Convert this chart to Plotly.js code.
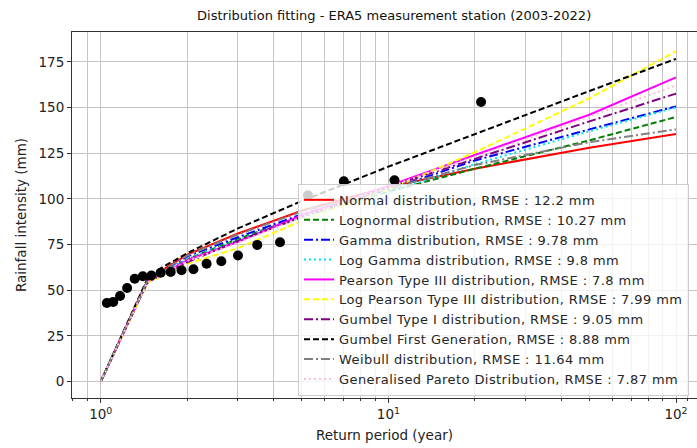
<!DOCTYPE html>
<html>
<head>
<meta charset="utf-8">
<script src="https://cdn.plot.ly/plotly-3.0.1.min.js"></script>
<style>
html,body{margin:0;padding:0;background:#fff;overflow:hidden;}
#chart{width:697px;height:448px;}
.legendtext{letter-spacing:0.42px;}
</style>
</head>
<body>
<div id="chart"></div>
<script>
// Return periods at which the fitted curves are read
const returnPeriods = [1, 1.45, 1.6, 2, 3, 5, 10, 20, 50, 100];

// Fitted curves (mm)
const normalVals      = [0, 55, 60, 69.5, 81, 93.5, 106.5, 116.5, 128, 135.5];
const lognormalVals   = [0, 54, 58.5, 67, 78, 90.5, 104, 116.5, 132, 144.8];
const gammaVals       = [0, 55, 59.5, 68.5, 79, 91.5, 105, 121, 138, 150.6];
const logGammaVals    = [0, 54.5, 58.5, 67, 77.5, 90, 103.5, 119, 137, 150];
const pearson3Vals    = [0, 54.5, 58, 66.5, 76.5, 91, 107, 124, 146, 166.5];
const logPearson3Vals = [0, 54, 57, 64.5, 73, 88, 105, 125.5, 155, 180.8];
const gumbel1Vals     = [0, 54, 57.7, 65.3, 77, 90, 106.4, 122, 142.4, 157.6];
const gumbelFGVals    = [0, 56, 61.6, 70.3, 83.8, 98.8, 117.6, 135.6, 159, 176.6];
const weibullVals     = [0, 55, 59.5, 69, 80.5, 93, 105.5, 118.5, 131, 138];
const genParetoVals   = [0, 54, 57.5, 66, 76, 90, 106.5, 123, 145, 162];

// Observed annual maxima (plotting positions)
const obsReturnPeriods = [1.05, 1.105, 1.167, 1.235, 1.3125, 1.4, 1.5, 1.615, 1.75, 1.909, 2.1, 2.333, 2.625, 3, 3.5, 4.2, 5.25, 7, 10.5, 21];
const obsRainfall      = [43.0, 43.6, 46.8, 51.2, 56.3, 57.6, 58.0, 59.5, 60.0, 60.9, 61.5, 64.5, 65.8, 69.0, 74.8, 76.2, 102, 109.6, 110.2, 153];

const seriesNames = [
  "Normal distribution, RMSE : 12.2 mm",
  "Lognormal distribution, RMSE : 10.27 mm",
  "Gamma distribution, RMSE : 9.78 mm",
  "Log Gamma distribution, RMSE : 9.8 mm",
  "Pearson Type III distribution, RMSE : 7.8 mm",
  "Log Pearson Type III distribution, RMSE : 7.99 mm",
  "Gumbel Type I distribution, RMSE : 9.05 mm",
  "Gumbel First Generation, RMSE : 8.88 mm",
  "Weibull distribution, RMSE : 11.64 mm",
  "Generalised Pareto Distribution, RMSE : 7.87 mm"
];
const seriesValues = [normalVals, lognormalVals, gammaVals, logGammaVals, pearson3Vals,
  logPearson3Vals, gumbel1Vals, gumbelFGVals, weibullVals, genParetoVals];

const DASH = "6px,3px", DASHDOT = "9px,3px,2px,3px", DOT = "2px,3px";
const styles = [
  {color: "#ff0000", dash: "solid"},
  {color: "#008000", dash: DASH},
  {color: "#0000ff", dash: DASHDOT},
  {color: "#00e5ee", dash: DOT},
  {color: "#ff00ff", dash: "solid"},
  {color: "#ffff00", dash: DASH},
  {color: "#800080", dash: DASHDOT},
  {color: "#000000", dash: DASH},
  {color: "#808080", dash: DASHDOT},
  {color: "#ffc0cb", dash: DOT}
];

const traces = seriesValues.map((vals, i) => ({
  type: "scatter", mode: "lines",
  x: returnPeriods, y: vals, name: seriesNames[i],
  line: {color: styles[i].color, dash: styles[i].dash, width: 2}
}));
traces.push({
  type: "scatter", mode: "markers",
  x: obsReturnPeriods, y: obsRainfall, showlegend: false,
  marker: {color: "#000000", size: 10}
});

const minorX = [0.8, 0.9, 2, 3, 4, 5, 6, 7, 8, 9, 20, 30, 40, 50, 60, 70, 80, 90, 110];
const gridColor = "#c4c4c4";

const layout = {
  width: 697, height: 448,
  margin: {l: 72, r: 0, t: 32, b: 50},
  paper_bgcolor: "#ffffff", plot_bgcolor: "#ffffff",
  font: {family: "DejaVu Sans", size: 13, color: "#222"},
  title: {text: "Distribution fitting - ERA5 measurement station (2003-2022)",
          font: {family: "DejaVu Sans", size: 13, color: "#111"},
          x: 0.5655, xanchor: "center", y: 0.965, yanchor: "middle"},
  xaxis: {
    type: "log", range: [-0.1, 2.073],
    tickvals: [1, 10, 100], ticktext: ["10<sup>0</sup>", "10<sup>1</sup>", "10<sup>2</sup>"],
    ticks: "outside", ticklen: 4, tickcolor: "#333",
    showgrid: true, gridcolor: gridColor, gridwidth: 1,
    minor: {tickvals: minorX, ticks: "outside", ticklen: 2, tickcolor: "#333",
            showgrid: true, gridcolor: gridColor, gridwidth: 1},
    showline: true, linecolor: "#333", linewidth: 1, mirror: true,
    zeroline: false,
    title: {text: "Return period (year)", font: {size: 13.5}, standoff: 9},
    tickfont: {size: 13.5}
  },
  yaxis: {
    range: [-9.0, 191.3],
    tickvals: [0, 25, 50, 75, 100, 125, 150, 175],
    ticks: "outside", ticklen: 4, tickcolor: "#333",
    showgrid: true, gridcolor: gridColor, gridwidth: 1,
    showline: true, linecolor: "#333", linewidth: 1, mirror: false,
    zeroline: false,
    title: {text: "Rainfall intensity (mm)", font: {size: 13.5}, standoff: 8},
    tickfont: {size: 13.5}
  },
  legend: {
    x: 0.3616, xanchor: "left", y: 0.585, yanchor: "top",
    bgcolor: "rgba(255,255,255,0.8)", bordercolor: "#cccccc", borderwidth: 1,
    font: {family: "DejaVu Sans", size: 13, color: "#262626"},
    traceorder: "normal"
  },
  showlegend: true
};

Plotly.newPlot("chart", traces, layout, {displayModeBar: false, staticPlot: true});
</script>
</body>
</html>
